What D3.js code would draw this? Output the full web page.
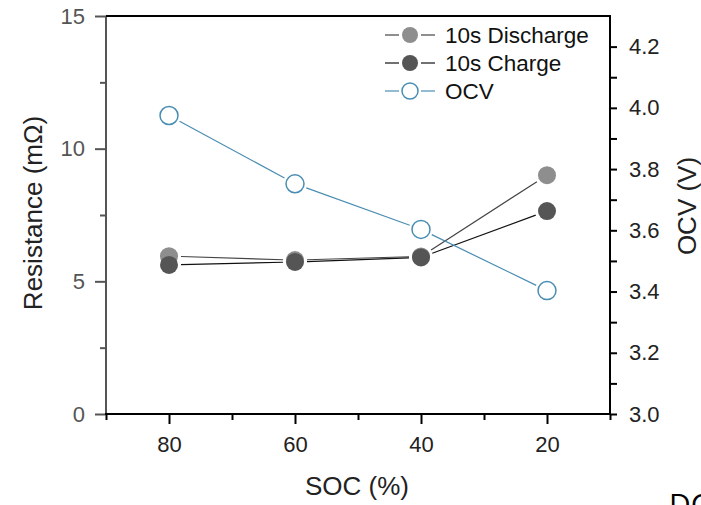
<!DOCTYPE html>
<html><head><meta charset="utf-8">
<script src="https://cdn.jsdelivr.net/npm/d3@7"></script>
<style>body{margin:0;background:#fff;}svg{display:block;font-family:"Liberation Sans",Arial,sans-serif;}</style>
</head><body>
<script>
const soc = [80, 60, 40, 20];
const discharge = [5.95, 5.8, 5.94, 9.0];
const charge = [5.62, 5.73, 5.9, 7.65];
const ocv = [3.975, 3.752, 3.603, 3.403];
const xMajor = [80, 60, 40, 20];
const xMinor = [90, 70, 50, 30, 10];
const yLeftMajor = [0, 5, 10, 15];
const yLeftMinor = [2.5, 7.5, 12.5];
const yRightMajor = [3.0, 3.2, 3.4, 3.6, 3.8, 4.0, 4.2];
const yRightMinor = [3.1, 3.3, 3.5, 3.7, 3.9, 4.1];
const legendNames = ["10s Discharge", "10s Charge", "OCV"];

const W = 701, H = 505;
const L = 106, R = 610, T = 16, B = 414;
const FONT = "Liberation Sans, Arial, sans-serif";
const svg = d3.select("body").append("svg").attr("width", W).attr("height", H);
const x = d3.scaleLinear().domain([90, 10]).range([L, R]);
const yL = d3.scaleLinear().domain([0, 15]).range([B, T]);
const yR = d3.scaleLinear().domain([3.0, 4.3]).range([B, T]);

function styleAxis(g, color, width) {
  g.select(".domain").remove();
  g.selectAll("line").attr("stroke", color).attr("stroke-width", width);
}
// bottom
const gxMin = svg.append("g").attr("transform", `translate(0,${B})`)
  .call(d3.axisBottom(x).tickValues(xMinor).tickSize(6).tickFormat(""));
styleAxis(gxMin, "#000", 2);
const gx = svg.append("g").attr("transform", `translate(0,${B})`)
  .call(d3.axisBottom(x).tickValues(xMajor).tickSize(10).tickPadding(12).tickFormat(d3.format("d")));
styleAxis(gx, "#000", 2);
gx.selectAll("text").attr("font-size", 22).attr("fill", "#222").attr("font-family", FONT);
// left
const gyMin = svg.append("g").attr("transform", `translate(${L},0)`)
  .call(d3.axisLeft(yL).tickValues(yLeftMinor).tickSize(6).tickFormat(""));
styleAxis(gyMin, "#555", 2);
const gy = svg.append("g").attr("transform", `translate(${L},0)`)
  .call(d3.axisLeft(yL).tickValues(yLeftMajor).tickSize(11).tickPadding(10).tickFormat(d3.format("d")));
styleAxis(gy, "#555", 2);
gy.selectAll("text").attr("font-size", 22).attr("fill", "#555").attr("font-family", FONT);
// right
const grMin = svg.append("g").attr("transform", `translate(${R},0)`)
  .call(d3.axisRight(yR).tickValues(yRightMinor).tickSize(7).tickFormat(""));
styleAxis(grMin, "#000", 2);
const gr = svg.append("g").attr("transform", `translate(${R},0)`)
  .call(d3.axisRight(yR).tickValues(yRightMajor).tickSize(7).tickPadding(12).tickFormat(d3.format(".1f")));
styleAxis(gr, "#000", 2);
gr.selectAll("text").attr("font-size", 22).attr("fill", "#222").attr("font-family", FONT);

// frame lines
svg.append("line").attr("x1", L).attr("x2", L).attr("y1", T).attr("y2", B).attr("stroke", "#555").attr("stroke-width", 2);
svg.append("line").attr("x1", L - 1).attr("x2", R + 1).attr("y1", B).attr("y2", B).attr("stroke", "#000").attr("stroke-width", 2);
svg.append("line").attr("x1", R).attr("x2", R).attr("y1", T).attr("y2", B).attr("stroke", "#000").attr("stroke-width", 2);
svg.append("line").attr("x1", L).attr("x2", R + 1).attr("y1", T).attr("y2", T).attr("stroke", "#000").attr("stroke-width", 2);

// series
const series = [
  {name: legendNames[0], vals: discharge, y: yL, line: "#444", fill: "#8e8e8e", stroke: "none"},
  {name: legendNames[1], vals: charge, y: yL, line: "#111", fill: "#555", stroke: "none"},
  {name: legendNames[2], vals: ocv, y: yR, line: "#4a8db3", fill: "#fff", stroke: "#4a8db3"}
];
const RAD = 9, GAP = 12;
series.forEach(s => {
  const pts = soc.map((d, i) => [x(d), s.y(s.vals[i])]);
  const segs = [];
  for (let i = 0; i < pts.length - 1; i++) {
    const [x1, y1] = pts[i], [x2, y2] = pts[i + 1];
    const len = Math.hypot(x2 - x1, y2 - y1);
    const ux = (x2 - x1) / len, uy = (y2 - y1) / len;
    segs.push([[x1 + ux * GAP, y1 + uy * GAP], [x2 - ux * GAP, y2 - uy * GAP]]);
  }
  svg.append("g").selectAll("path").data(segs).join("path")
    .attr("d", d => d3.line()(d)).attr("fill", "none").attr("stroke", s.line).attr("stroke-width", 1.2);
  svg.append("g").selectAll("circle").data(pts).join("circle")
    .attr("cx", d => d[0]).attr("cy", d => d[1]).attr("r", RAD)
    .attr("fill", s.fill).attr("stroke", s.stroke).attr("stroke-width", 1.5);
});

// legend
const leg = svg.append("g");
series.forEach((s, i) => {
  const yy = 35 + i * 28;
  leg.append("line").attr("x1", 385).attr("x2", 399).attr("y1", yy).attr("y2", yy).attr("stroke", s.line).attr("stroke-width", 1.2);
  leg.append("line").attr("x1", 421).attr("x2", 435).attr("y1", yy).attr("y2", yy).attr("stroke", s.line).attr("stroke-width", 1.2);
  leg.append("circle").attr("cx", 410).attr("cy", yy).attr("r", 8).attr("fill", s.fill).attr("stroke", s.stroke).attr("stroke-width", 1.5);
  leg.append("text").attr("x", 445).attr("y", yy).attr("dy", "0.35em").attr("font-size", 22.5).attr("fill", "#111").text(s.name);
});

// axis titles
svg.append("text").attr("x", 357).attr("y", 495).attr("text-anchor", "middle").attr("font-size", 26).attr("fill", "#222").text("SOC (%)");
svg.append("text").attr("transform", "translate(42,213) rotate(-90)").attr("text-anchor", "middle").attr("font-size", 26).attr("fill", "#222").text("Resistance (mΩ)");
svg.append("text").attr("transform", "translate(696,206) rotate(-90)").attr("text-anchor", "middle").attr("font-size", 26).attr("fill", "#222").text("OCV (V)");
svg.append("text").attr("x", 669).attr("y", 515).attr("font-size", 30).attr("fill", "#000").attr("font-family", "Open Sans, sans-serif").text("DC");
</script>
</body></html>
